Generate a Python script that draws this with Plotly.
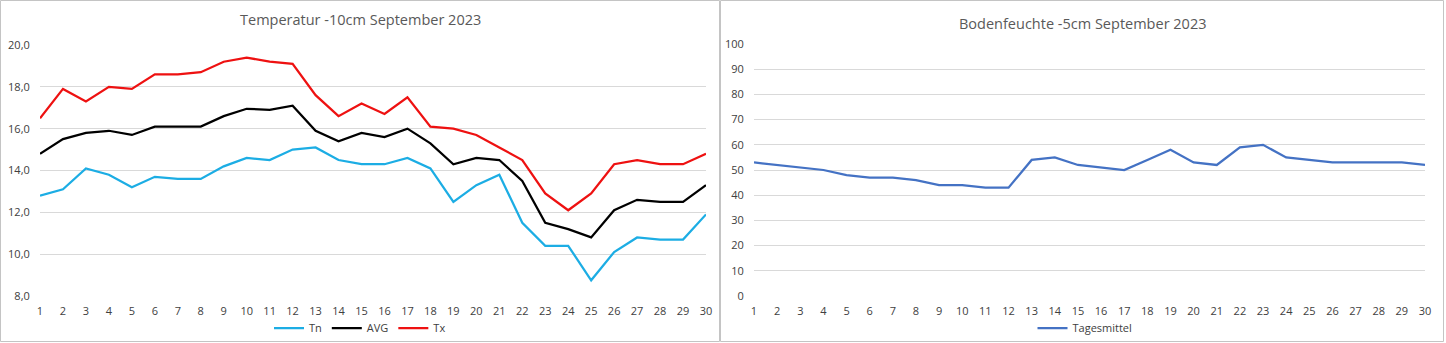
import plotly.graph_objects as go

W, H = 1446, 343

days = list(range(1, 31))
tn = [12.8, 13.1, 14.1, 13.8, 13.2, 13.7, 13.6, 13.6, 14.2, 14.6, 14.5, 15.0, 15.1, 14.5, 14.3,
      14.3, 14.6, 14.1, 12.5, 13.3, 13.8, 11.5, 10.4, 10.4, 8.75, 10.1, 10.8, 10.7, 10.7, 11.9]
avg = [14.8, 15.5, 15.8, 15.9, 15.7, 16.1, 16.1, 16.1, 16.6, 16.95, 16.9, 17.1, 15.9, 15.4, 15.8,
       15.6, 16.0, 15.3, 14.3, 14.6, 14.5, 13.5, 11.5, 11.2, 10.8, 12.1, 12.6, 12.5, 12.5, 13.3]
tx = [16.5, 17.9, 17.3, 18.0, 17.9, 18.6, 18.6, 18.7, 19.2, 19.4, 19.2, 19.1, 17.6, 16.6, 17.2,
      16.7, 17.5, 16.1, 16.0, 15.7, 15.1, 14.5, 12.9, 12.1, 12.9, 14.3, 14.5, 14.3, 14.3, 14.8]
feuchte = [53, 52, 51, 50, 48, 47, 47, 46, 44, 44, 43, 43, 54, 55, 52,
           51, 50, 54, 58, 53, 52, 59, 60, 55, 54, 53, 53, 53, 53, 52]

title_left = "Temperatur -10cm September 2023"
title_right = "Bodenfeuchte -5cm September 2023"

FONT = "Open Sans"
TXT = "#404040"
GRID = "#D9D9D9"

def px_x(p):
    return p / W

def px_y(p):
    return 1 - p / H

fig = go.Figure()
fig.add_trace(go.Scatter(x=days, y=tn, name="Tn", mode="lines",
                         line=dict(color="#1CADE4", width=2.25), xaxis="x", yaxis="y", legend="legend"))
fig.add_trace(go.Scatter(x=days, y=avg, name="AVG", mode="lines",
                         line=dict(color="#000000", width=2.25), xaxis="x", yaxis="y", legend="legend"))
fig.add_trace(go.Scatter(x=days, y=tx, name="Tx", mode="lines",
                         line=dict(color="#EE1111", width=2.25), xaxis="x", yaxis="y", legend="legend"))
fig.add_trace(go.Scatter(x=days, y=feuchte, name="Tagesmittel", mode="lines",
                         line=dict(color="#4472C4", width=2.25), xaxis="x2", yaxis="y2", legend="legend2"))

common_x = dict(range=[1, 30], tickvals=days, ticktext=[str(d) for d in days], showgrid=False,
                zeroline=False, showline=False, ticks="outside", ticklen=5, tickcolor="rgba(0,0,0,0)",
                tickfont=dict(family=FONT, size=11, color=TXT), fixedrange=True, automargin=False)
common_y = dict(showgrid=True, gridcolor=GRID, gridwidth=1, zeroline=False, showline=False,
                ticks="outside", ticklen=7, tickcolor="rgba(0,0,0,0)",
                tickfont=dict(family=FONT, size=11, color=TXT), fixedrange=True, automargin=False)

fig.update_layout(
    width=W, height=H,
    margin=dict(l=0, r=0, t=0, b=0, autoexpand=False),
    paper_bgcolor="white", plot_bgcolor="white",
    separators=",.",
    xaxis=dict(domain=[px_x(40), px_x(706)], anchor="y", **common_x),
    yaxis=dict(domain=[px_y(296), px_y(45)], anchor="x", range=[8, 20], tickvals=[8, 10, 12, 14, 16, 18, 20],
               tickformat=".1f", **common_y),
    xaxis2=dict(domain=[px_x(754), px_x(1425)], anchor="y2", **common_x),
    yaxis2=dict(domain=[px_y(296), px_y(44)], anchor="x2", range=[0, 100], tickvals=list(range(0, 101, 10)),
                **common_y),
    legend=dict(orientation="h", x=px_x(360), y=px_y(328), xanchor="center", yanchor="middle",
                font=dict(family=FONT, size=11, color=TXT), bgcolor="rgba(0,0,0,0)", itemwidth=30),
    legend2=dict(orientation="h", x=px_x(1085), y=px_y(328), xanchor="center", yanchor="middle",
                 font=dict(family=FONT, size=11, color=TXT), bgcolor="rgba(0,0,0,0)", itemwidth=30),
    annotations=[
        dict(text=title_left, x=px_x(360), y=px_y(20), xref="paper", yref="paper", showarrow=False,
             xanchor="center", yanchor="middle", font=dict(family=FONT, size=14.5, color="#595959")),
        dict(text=title_right, x=px_x(1082), y=px_y(23), xref="paper", yref="paper", showarrow=False,
             xanchor="center", yanchor="middle", font=dict(family=FONT, size=14.5, color="#595959")),
    ],
    shapes=[
        dict(type="rect", xref="paper", yref="paper", x0=px_x(0.5), x1=px_x(719.5), y0=px_y(341.5), y1=px_y(0.5),
             line=dict(color="#C4C4C4", width=1)),
        dict(type="rect", xref="paper", yref="paper", x0=px_x(720.5), x1=px_x(1443.5), y0=px_y(341.5), y1=px_y(0.5),
             line=dict(color="#C4C4C4", width=1)),
    ],
)

fig.write_html("out.html")
